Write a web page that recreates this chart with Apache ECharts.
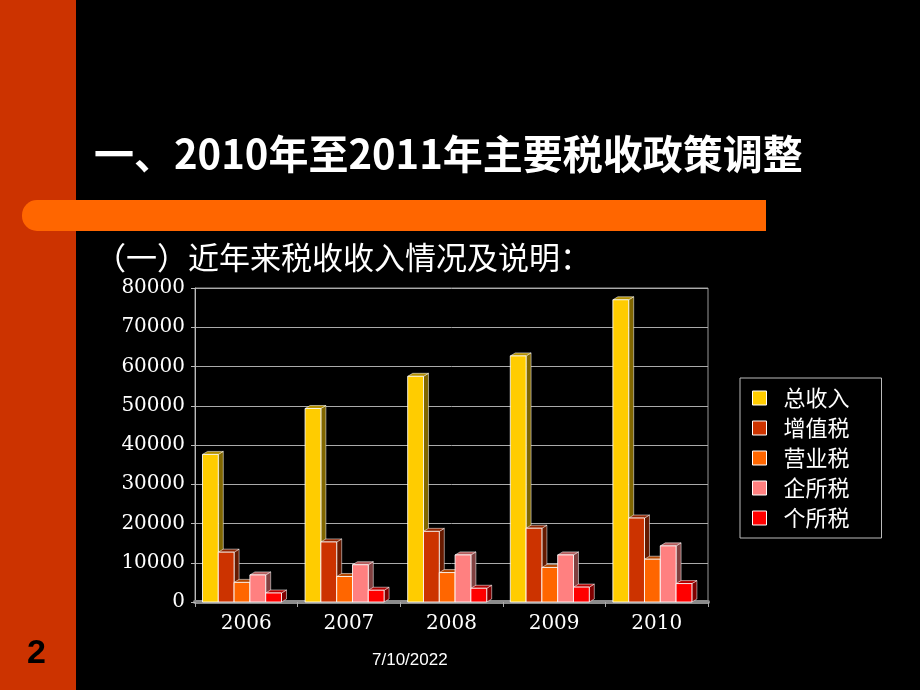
<!DOCTYPE html>
<html>
<head>
<meta charset="utf-8">
<script src="https://cdn.jsdelivr.net/npm/echarts@6/dist/echarts.min.js"></script>
<style>html,body{margin:0;padding:0;background:#000;}#c{width:920px;height:690px;}</style>
</head>
<body>
<div id="c"></div>
<script>
// ---- data ----
const years = ['2006', '2007', '2008', '2009', '2010'];
const seriesNames = ['总收入', '增值税', '营业税', '企所税', '个所税'];
const totalIncome = [37600, 49300, 57500, 62700, 77000];
const vatTax = [12700, 15300, 18000, 18800, 21400];
const businessTax = [5000, 6500, 7500, 8800, 10900];
const corporateTax = [6900, 9500, 12000, 12000, 14300];
const personalTax = [2300, 3000, 3500, 3800, 4700];
const yMin = 0, yMax = 80000, yStep = 10000;
const titleText = '一、2010年至2011年主要税收政策调整';
const subtitleText = '（一）近年来税收收入情况及说明：';
const dateText = '7/10/2022';
const pageText = '2';

// ---- styles ----
const frontColors = ['#FFCC00', '#CC3300', '#FF6600', '#FF8080', '#FF0000'];
const topColors = ['#B38F00', '#8F2400', '#B34700', '#B35A5A', '#B30000'];
const sideColors = ['#806600', '#661A00', '#803300', '#804040', '#800000'];

const allValues = [totalIncome, vatTax, businessTax, corporateTax, personalTax];

function makeRender(si) {
  return function (params, api) {
    const idx = api.value(0), v = api.value(1);
    const top = api.coord([idx, v]);
    const base = api.coord([idx, 0]);
    const slot = api.size([1, 0])[0];
    const bw = slot * 0.154;
    const start = top[0] - slot / 2 + slot * 0.073;
    const x = start + si * bw;
    const y = top[1];
    const h = base[1] - top[1];
    const dx = 5, dy = -3;
    const edge = 'rgba(255,255,255,0.75)';
    return {
      type: 'group',
      children: [
        { type: 'polygon', shape: { points: [[x + bw, y], [x + bw + dx, y + dy], [x + bw + dx, base[1] + dy], [x + bw, base[1]]] },
          style: { fill: sideColors[si], stroke: edge, lineWidth: 0.7 } },
        { type: 'polygon', shape: { points: [[x, y], [x + dx, y + dy], [x + bw + dx, y + dy], [x + bw, y]] },
          style: { fill: topColors[si], stroke: edge, lineWidth: 0.7 } },
        { type: 'rect', shape: { x: x, y: y, width: bw, height: h },
          style: { fill: frontColors[si], stroke: 'rgba(255,255,255,0.85)', lineWidth: 1 } }
      ]
    };
  };
}

const series = allValues.map((vals, si) => ({
  name: seriesNames[si],
  type: 'custom',
  renderItem: makeRender(si),
  encode: { x: 0, y: 1 },
  itemStyle: { color: frontColors[si] },
  data: vals.map((v, i) => [i, v]),
  z: 3
}));

const chart = echarts.init(document.getElementById('c'), null, { renderer: 'canvas' });
chart.setOption({
  backgroundColor: '#000',
  animation: false,
  grid: { left: 195, right: 212, top: 288, bottom: 88, show: true, borderColor: '#999', borderWidth: 1 },
  xAxis: {
    type: 'category',
    data: years,
    boundaryGap: true,
    axisLine: { lineStyle: { color: '#8c8c8c', width: 4 } },
    axisTick: { show: true, length: 5, lineStyle: { color: '#aaa' } },
    axisLabel: { color: '#fff', fontFamily: 'DejaVu Serif', fontSize: 20, margin: 12 }
  },
  yAxis: {
    type: 'value',
    min: yMin, max: yMax, interval: yStep,
    axisLine: { show: true, lineStyle: { color: '#bbb', width: 1 } },
    axisTick: { show: true, length: 4, lineStyle: { color: '#bbb' } },
    splitLine: { show: true, lineStyle: { color: '#aaa', width: 1 } },
    axisLabel: { color: '#fff', fontFamily: 'DejaVu Serif', fontSize: 20, margin: 10, formatter: v => String(v) }
  },
  legend: {
    orient: 'vertical',
    left: 740, top: 378,
    data: seriesNames,
    icon: 'rect',
    itemWidth: 14, itemHeight: 14, itemGap: 8,
    padding: [9, 32, 9, 12],
    borderColor: '#bbb', borderWidth: 1,
    itemStyle: { borderColor: '#fff', borderWidth: 1 },
    textStyle: { color: '#fff', fontSize: 22, fontFamily: 'Noto Sans CJK SC', padding: [0, 0, 0, 12] }
  },
  graphic: [
    { type: 'rect', left: 0, top: 0, shape: { width: 76, height: 690 }, style: { fill: '#CC3300' }, z: 0 },
    { type: 'rect', left: 22, top: 200, shape: { width: 744, height: 31, r: [15, 0, 0, 15] }, style: { fill: '#FF6600' }, z: 1 },
    { type: 'text', left: 94, top: 134, style: { text: titleText, fill: '#fff', font: 'bold 40px "Noto Sans CJK SC"' }, z: 2 },
    { type: 'text', left: 95, top: 242, style: { text: subtitleText, fill: '#fff', font: '31px "Noto Sans CJK SC"' }, z: 2 },
    { type: 'text', left: 372, top: 652, style: { text: dateText, fill: '#fff', font: '17px "Liberation Sans"' }, z: 2 },
    { type: 'text', left: 27, top: 637, style: { text: pageText, fill: '#000', font: 'bold 34px "Liberation Sans"' }, z: 2 }
  ],
  series: series
});
</script>
</body>
</html>
